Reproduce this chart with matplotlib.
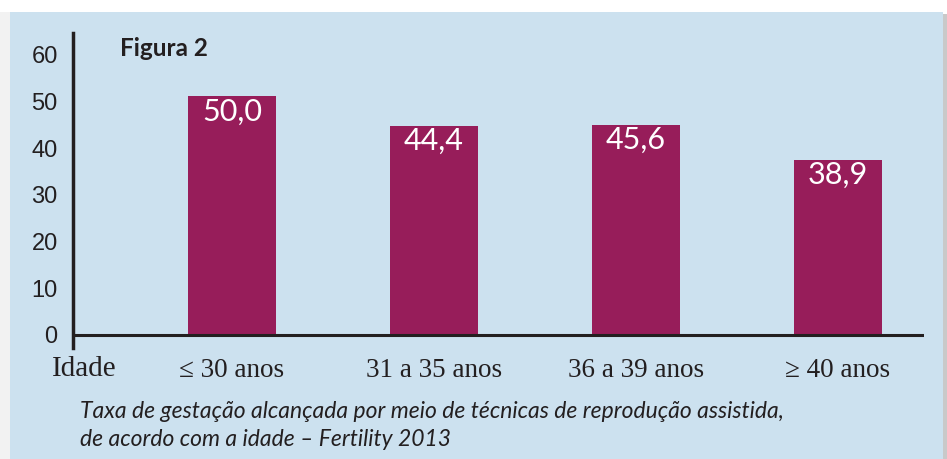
import matplotlib
matplotlib.use("Agg")
import matplotlib.pyplot as plt
from matplotlib.patches import Rectangle
from matplotlib.transforms import blended_transform_factory

# dados
categorias = ["≤ 30 anos", "31 a 35 anos", "36 a 39 anos", "≥ 40 anos"]
alturas = [51.2, 44.8, 45.0, 37.5]          # altura das barras como desenhadas
rotulos = ["50,0", "44,4", "45,6", "38,9"]  # valores impressos nas barras
yticks = [0, 10, 20, 30, 40, 50, 60]

W, H = 947, 459
fig = plt.figure(figsize=(W / 100, H / 100), dpi=100)
fig.patch.set_facecolor("white")

# painel azul claro + sombras
fig.patches.append(Rectangle((0, 0), 10 / W, 1 - 12 / H, transform=fig.transFigure,
                             facecolor="#f2f2f2", edgecolor="none", zorder=-2))
fig.patches.append(Rectangle((10 / W, 0), 933 / W, 1 - 12 / H, transform=fig.transFigure,
                             facecolor="#cce1ef", edgecolor="none", zorder=-2))
fig.patches.append(Rectangle((943 / W, 0), 4 / W, 1 - 14 / H, transform=fig.transFigure,
                             facecolor="#c9c9c9", edgecolor="none", zorder=-2))

# eixo: esquerda x=73px, direita x=924px, topo y=33px, base y=348px
ax = fig.add_axes([73 / W, (H - 348) / H, (924 - 73) / W, (348 - 33) / H])
ax.set_facecolor("none")
ax.set_zorder(2)

x = list(range(len(categorias)))
ax.bar(x, alturas, width=0.436, color="#971d5a", zorder=2)

ax.set_xlim(-0.787, 3.426)
ax.set_ylim(-2.79, 64.7)

for s in ["top", "right", "bottom"]:
    ax.spines[s].set_visible(False)
ax.spines["left"].set_linewidth(2.5)
ax.spines["left"].set_color("#231f20")
ax.axhline(0, color="#231f20", linewidth=2.2, zorder=3)

ax.set_yticks(yticks)
ax.set_yticklabels([str(v) for v in yticks], family="Liberation Sans", fontsize=17,
                   color="#231f20")
ax.tick_params(axis="y", length=0, pad=11)

ax.set_xticks(x)
ax.set_xticklabels(categorias, family="Liberation Serif", fontsize=19.5, color="#231f20")
ax.tick_params(axis="x", length=0, pad=7)

trans = blended_transform_factory(fig.transFigure, ax.transData)
ax.text(52 / W, -7.2, "Idade", transform=trans, family="Liberation Serif", fontsize=21,
        color="#231f20", ha="left", va="center")

# valores dentro das barras
for xi, h, r in zip(x, alturas, rotulos):
    ax.annotate(r, xy=(xi, h), xytext=(0, -11), textcoords="offset points",
                ha="center", va="center", color="white", family="Lato", fontsize=22,
                zorder=4)

fig.text(120 / W, 1 - 48 / H, "Figura 2", family="Lato", fontweight="bold", fontsize=17.5,
         color="#231f20", ha="left", va="center")

fig.text(80 / W, 1 - 412 / H, "Taxa de gestação alcançada por meio de técnicas de reprodução assistida,",
         family="Lato", style="italic", fontsize=16.5, color="#231f20", ha="left", va="center")
fig.text(80 / W, 1 - 440 / H, "de acordo com a idade – Fertility 2013",
         family="Lato", style="italic", fontsize=16.5, color="#231f20", ha="left", va="center")

fig.savefig("out.png", dpi=100)
plt.close()
